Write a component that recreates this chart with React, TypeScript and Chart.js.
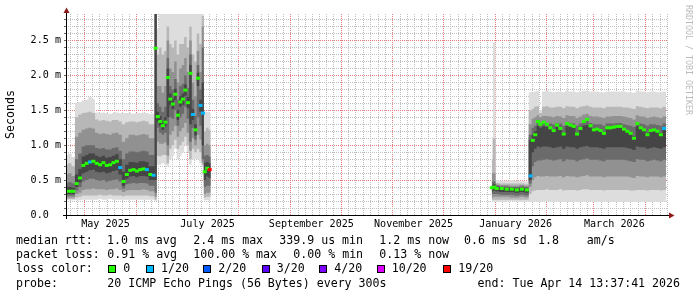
import React, { useEffect, useRef } from "react";
import { Chart, registerables } from "chart.js";

Chart.register(...registerables);

// ---------------- data (x = days since 2025-05-01, y = milliseconds) ----------------
const xRangeDays = [-11.35, 348.3];
const yMaxMs = 2.88;

const yMajorTicks = [0, 0.5, 1.0, 1.5, 2.0, 2.5];
const yTickLabels = ["0.0  ", "0.5 m", "1.0 m", "1.5 m", "2.0 m", "2.5 m"];

const xLabelDays = [0, 61, 123, 184, 245, 304];
const xTickLabels = ["May 2025", "July 2025", "September 2025", "November 2025", "January 2026", "March 2026"];

// segment A: late April – mid July 2025
const aDays = [
  -11.35, -9, -7, -5, -3, -1, 1, 3, 5, 7, 9, 11, 13, 15, 17, 19, 21, 23, 25, 27, 29, 31, 33, 35, 37, 39, 41,
  42.2, 43.5, 45, 46.5, 48, 49.5, 51, 52.5, 54, 55.5, 57, 58.5, 60, 61.5, 63, 64.5, 66, 67.5, 69, 70.5,
  71.5, 73, 74.5, 75.1,
];
const aMedian = [
  0.34, 0.34, 0.34, 0.45, 0.53, 0.71, 0.74, 0.76, 0.77, 0.74, 0.72, 0.75, 0.71, 0.72, 0.75, 0.77, 0.68, 0.48, 0.58, 0.64, 0.65, 0.63, 0.65, 0.66, 0.65, 0.58, 0.57,
  2.39, 1.41, 1.34, 1.28, 1.33, 1.97, 1.66, 1.59, 1.73, 1.43, 1.62, 1.66, 1.79, 1.61, 2.03, 1.44, 1.22, 1.96, 1.57, 1.46,
  0.62, 0.67, 0.65, null,
];
const aLoss = [
  0, 0, 0, 0, 0, 0, 0, 1, 0, 0, 0, 0, 0, 0, 0, 0, 1, 0, 0, 0, 0, 0, 0, 0, 1, 0, 1,
  0, 0, 0, 0, 0, 0, 0, 0, 0, 0, 0, 0, 0, 0, 0, 1, 0, 0, 1, 1,
  0, 0, 19, null,
];
// smoke: [min,max, p3,p18, p5,p16, p7,p14, p9,p12] per step (outer -> inner)
const aSmoke = [
  [0.21, 0.86, 0.23, 0.72, 0.25, 0.58, 0.28, 0.46, 0.30, 0.40],
  [0.21, 0.88, 0.23, 0.74, 0.25, 0.60, 0.28, 0.47, 0.30, 0.40],
  [0.21, 0.83, 0.23, 0.70, 0.25, 0.56, 0.28, 0.45, 0.30, 0.39],
  [0.21, 1.60, 0.25, 1.40, 0.30, 1.12, 0.35, 0.80, 0.40, 0.58],
  [0.21, 1.62, 0.26, 1.44, 0.32, 1.18, 0.40, 0.88, 0.47, 0.66],
  [0.22, 1.64, 0.28, 1.46, 0.36, 1.22, 0.48, 0.98, 0.60, 0.84],
  [0.22, 1.65, 0.28, 1.47, 0.37, 1.24, 0.50, 1.00, 0.62, 0.86],
  [0.22, 1.69, 0.28, 1.48, 0.37, 1.25, 0.52, 1.00, 0.64, 0.88],
  [0.22, 1.66, 0.28, 1.46, 0.38, 1.24, 0.52, 1.00, 0.65, 0.88],
  [0.22, 1.47, 0.28, 1.37, 0.37, 1.18, 0.50, 0.96, 0.62, 0.85],
  [0.23, 1.46, 0.29, 1.35, 0.37, 1.16, 0.49, 0.95, 0.61, 0.83],
  [0.22, 1.47, 0.28, 1.36, 0.37, 1.17, 0.50, 0.96, 0.62, 0.85],
  [0.22, 1.46, 0.28, 1.35, 0.36, 1.16, 0.48, 0.94, 0.60, 0.82],
  [0.23, 1.45, 0.29, 1.34, 0.37, 1.15, 0.49, 0.94, 0.61, 0.83],
  [0.22, 1.46, 0.28, 1.36, 0.37, 1.17, 0.50, 0.96, 0.63, 0.85],
  [0.22, 1.47, 0.28, 1.36, 0.38, 1.18, 0.51, 0.97, 0.64, 0.87],
  [0.22, 1.46, 0.28, 1.34, 0.36, 1.15, 0.48, 0.92, 0.58, 0.80],
  [0.22, 1.46, 0.27, 1.30, 0.33, 1.05, 0.38, 0.80, 0.42, 0.62],
  [0.22, 1.46, 0.28, 1.33, 0.35, 1.10, 0.44, 0.88, 0.52, 0.72],
  [0.22, 1.46, 0.28, 1.34, 0.36, 1.15, 0.45, 0.91, 0.55, 0.76],
  [0.22, 1.45, 0.28, 1.34, 0.36, 1.15, 0.46, 0.91, 0.56, 0.76],
  [0.22, 1.46, 0.28, 1.33, 0.36, 1.14, 0.45, 0.90, 0.54, 0.75],
  [0.22, 1.46, 0.28, 1.34, 0.36, 1.15, 0.46, 0.91, 0.56, 0.77],
  [0.22, 1.47, 0.28, 1.35, 0.37, 1.16, 0.46, 0.92, 0.56, 0.77],
  [0.22, 1.46, 0.28, 1.34, 0.36, 1.15, 0.45, 0.91, 0.55, 0.76],
  [0.22, 1.45, 0.27, 1.30, 0.34, 1.10, 0.42, 0.86, 0.50, 0.70],
  [0.22, 1.45, 0.27, 1.30, 0.34, 1.10, 0.42, 0.86, 0.50, 0.70],
  [0.20, 2.95, 0.22, 2.95, 0.26, 2.95, 0.32, 2.95, 0.50, 2.95],
  [0.72, 2.66, 0.85, 2.30, 1.05, 1.85, 1.25, 1.60, 1.34, 1.48],
  [0.72, 2.95, 0.84, 2.40, 1.02, 1.85, 1.18, 1.55, 1.28, 1.42],
  [0.74, 2.95, 0.86, 2.30, 1.02, 1.75, 1.15, 1.48, 1.22, 1.35],
  [0.72, 2.95, 0.86, 2.35, 1.04, 1.85, 1.18, 1.55, 1.27, 1.40],
  [0.70, 2.95, 0.74, 2.70, 0.85, 2.50, 1.00, 2.25, 1.40, 2.10],
  [0.80, 2.95, 0.95, 2.45, 1.15, 2.10, 1.40, 1.85, 1.58, 1.74],
  [0.85, 2.95, 1.00, 2.40, 1.20, 2.05, 1.38, 1.80, 1.52, 1.67],
  [0.95, 2.95, 1.08, 2.50, 1.28, 2.20, 1.50, 1.95, 1.65, 1.81],
  [0.80, 2.95, 0.95, 2.30, 1.12, 1.90, 1.28, 1.65, 1.36, 1.50],
  [0.85, 2.95, 1.00, 2.45, 1.20, 2.10, 1.40, 1.85, 1.55, 1.70],
  [0.90, 2.95, 1.05, 2.45, 1.25, 2.15, 1.45, 1.88, 1.58, 1.74],
  [1.00, 2.95, 1.12, 2.55, 1.32, 2.25, 1.55, 2.00, 1.71, 1.87],
  [0.90, 2.95, 1.00, 2.40, 1.18, 2.05, 1.38, 1.82, 1.53, 1.69],
  [0.72, 2.95, 0.80, 2.70, 0.92, 2.50, 1.05, 2.30, 1.30, 2.15],
  [0.80, 2.95, 0.95, 2.30, 1.10, 1.90, 1.25, 1.65, 1.36, 1.52],
  [0.80, 2.95, 0.90, 2.20, 1.00, 1.70, 1.08, 1.42, 1.14, 1.30],
  [0.80, 2.95, 0.95, 2.60, 1.15, 2.35, 1.40, 2.15, 1.85, 2.04],
  [0.75, 2.95, 0.90, 2.45, 1.08, 2.05, 1.28, 1.80, 1.48, 1.65],
  [0.70, 2.95, 0.72, 2.85, 0.75, 2.70, 0.80, 2.40, 1.00, 1.90],
  [0.21, 1.48, 0.25, 1.20, 0.30, 1.00, 0.40, 0.85, 0.50, 0.75],
  [0.21, 1.48, 0.26, 1.25, 0.32, 1.02, 0.42, 0.86, 0.55, 0.76],
  [0.21, 1.46, 0.26, 1.22, 0.32, 1.00, 0.42, 0.84, 0.53, 0.74],
  [0.21, 1.46, 0.26, 1.22, 0.32, 1.00, 0.42, 0.84, 0.53, 0.74],
];

// segment B: late December 2025 – April 14 2026
const bDays = [
  243.0, 244.5, 246, 249, 252, 255, 258, 261, 264,
  266.2,
  267.5, 269, 270.5, 272, 274, 276, 278, 280, 282, 284, 286, 288, 290, 292, 294, 296, 298, 300, 302, 304, 306,
  308, 310, 312, 314, 316, 318, 320, 322, 324, 326, 328, 330, 332, 334, 336, 338, 340, 342, 344, 346,
  347.1,
];
const bMedian = [
  0.39, 0.40, 0.38, 0.38, 0.37, 0.37, 0.36, 0.37, 0.36,
  0.56,
  1.07, 1.15, 1.34, 1.30, 1.33, 1.30, 1.25, 1.21, 1.29, 1.24, 1.16, 1.31, 1.29, 1.27, 1.16, 1.24, 1.34, 1.37, 1.28, 1.22, 1.23,
  1.21, 1.17, 1.25, 1.25, 1.26, 1.27, 1.27, 1.23, 1.20, 1.17, 1.10, 1.31, 1.25, 1.22, 1.15, 1.21, 1.22, 1.20, 1.15, 1.24,
  null,
];
const bLoss = [
  0, 0, 0, 0, 0, 0, 0, 0, 0,
  1,
  0, 0, 0, 0, 0, 0, 0, 0, 0, 0, 0, 0, 0, 0, 0, 0, 0, 0, 0, 0, 0,
  0, 0, 0, 0, 0, 0, 0, 0, 0, 0, 0, 0, 0, 0, 0, 0, 0, 0, 0, 1,
  null,
];
const bSmoke = [
  [0.19, 1.12, 0.22, 0.80, 0.25, 0.60, 0.30, 0.48, 0.34, 0.43],
  [0.19, 2.47, 0.22, 1.10, 0.26, 0.60, 0.30, 0.48, 0.35, 0.44],
  [0.19, 0.50, 0.22, 0.46, 0.26, 0.44, 0.30, 0.42, 0.34, 0.41],
  [0.19, 0.49, 0.22, 0.45, 0.26, 0.43, 0.29, 0.41, 0.33, 0.40],
  [0.19, 0.49, 0.22, 0.45, 0.26, 0.43, 0.29, 0.41, 0.33, 0.39],
  [0.20, 0.50, 0.22, 0.45, 0.25, 0.42, 0.29, 0.40, 0.33, 0.39],
  [0.19, 0.49, 0.22, 0.45, 0.25, 0.42, 0.28, 0.40, 0.32, 0.38],
  [0.19, 0.49, 0.22, 0.45, 0.26, 0.43, 0.29, 0.41, 0.33, 0.39],
  [0.19, 0.48, 0.22, 0.44, 0.25, 0.42, 0.28, 0.40, 0.32, 0.38],
  [0.19, 1.76, 0.30, 1.50, 0.40, 1.30, 0.45, 1.15, 0.50, 1.08],
  [0.19, 1.76, 0.34, 1.52, 0.50, 1.38, 0.70, 1.25, 0.90, 1.15],
  [0.19, 1.77, 0.35, 1.55, 0.54, 1.40, 0.76, 1.28, 0.95, 1.20],
  [0.19, 1.78, 0.36, 1.56, 0.56, 1.43, 0.78, 1.34, 0.98, 1.28],
  [0.19, 1.50, 0.36, 1.46, 0.55, 1.40, 0.78, 1.32, 0.97, 1.25],
  [0.19, 1.77, 0.36, 1.55, 0.55, 1.42, 0.79, 1.33, 0.98, 1.27],
  [0.20, 1.78, 0.37, 1.56, 0.56, 1.42, 0.80, 1.32, 0.98, 1.26],
  [0.19, 1.77, 0.36, 1.54, 0.55, 1.41, 0.79, 1.31, 0.97, 1.23],
  [0.19, 1.76, 0.36, 1.54, 0.55, 1.40, 0.78, 1.30, 0.96, 1.21],
  [0.19, 1.77, 0.36, 1.55, 0.55, 1.42, 0.79, 1.32, 0.97, 1.26],
  [0.19, 1.77, 0.37, 1.55, 0.56, 1.41, 0.80, 1.31, 0.98, 1.23],
  [0.19, 1.76, 0.35, 1.53, 0.54, 1.39, 0.77, 1.28, 0.95, 1.18],
  [0.19, 1.78, 0.36, 1.56, 0.56, 1.43, 0.80, 1.33, 0.98, 1.27],
  [0.19, 1.77, 0.36, 1.55, 0.55, 1.42, 0.79, 1.32, 0.97, 1.26],
  [0.19, 1.77, 0.36, 1.55, 0.55, 1.42, 0.79, 1.31, 0.97, 1.25],
  [0.19, 1.76, 0.35, 1.53, 0.54, 1.39, 0.77, 1.28, 0.95, 1.18],
  [0.19, 1.77, 0.36, 1.55, 0.55, 1.41, 0.79, 1.31, 0.97, 1.23],
  [0.19, 1.78, 0.37, 1.56, 0.56, 1.44, 0.80, 1.34, 0.98, 1.28],
  [0.20, 1.78, 0.37, 1.57, 0.57, 1.45, 0.81, 1.35, 0.99, 1.29],
  [0.19, 1.77, 0.36, 1.55, 0.55, 1.42, 0.79, 1.32, 0.97, 1.25],
  [0.19, 1.77, 0.36, 1.54, 0.55, 1.41, 0.79, 1.30, 0.97, 1.22],
  [0.19, 1.77, 0.36, 1.54, 0.55, 1.41, 0.79, 1.30, 0.97, 1.22],
  [0.19, 1.76, 0.36, 1.54, 0.55, 1.40, 0.78, 1.30, 0.96, 1.21],
  [0.19, 1.76, 0.35, 1.53, 0.54, 1.39, 0.77, 1.28, 0.95, 1.18],
  [0.19, 1.77, 0.36, 1.55, 0.55, 1.41, 0.79, 1.31, 0.97, 1.23],
  [0.19, 1.77, 0.36, 1.55, 0.55, 1.41, 0.79, 1.31, 0.97, 1.23],
  [0.19, 1.77, 0.36, 1.55, 0.55, 1.42, 0.79, 1.31, 0.97, 1.24],
  [0.19, 1.77, 0.36, 1.55, 0.55, 1.42, 0.79, 1.32, 0.97, 1.25],
  [0.19, 1.77, 0.36, 1.55, 0.55, 1.42, 0.79, 1.32, 0.97, 1.25],
  [0.19, 1.77, 0.36, 1.54, 0.55, 1.41, 0.79, 1.30, 0.97, 1.22],
  [0.19, 1.76, 0.36, 1.54, 0.55, 1.40, 0.78, 1.29, 0.96, 1.20],
  [0.19, 1.76, 0.35, 1.53, 0.54, 1.39, 0.77, 1.28, 0.95, 1.18],
  [0.19, 1.75, 0.35, 1.52, 0.53, 1.37, 0.76, 1.26, 0.93, 1.13],
  [0.19, 1.78, 0.36, 1.56, 0.56, 1.43, 0.80, 1.33, 0.98, 1.27],
  [0.19, 1.77, 0.36, 1.55, 0.55, 1.41, 0.79, 1.31, 0.97, 1.23],
  [0.19, 1.77, 0.36, 1.54, 0.55, 1.41, 0.79, 1.30, 0.97, 1.22],
  [0.19, 1.76, 0.35, 1.53, 0.54, 1.39, 0.77, 1.28, 0.95, 1.17],
  [0.19, 1.77, 0.36, 1.54, 0.55, 1.40, 0.78, 1.30, 0.96, 1.21],
  [0.19, 1.77, 0.36, 1.54, 0.55, 1.41, 0.79, 1.30, 0.97, 1.22],
  [0.19, 1.76, 0.36, 1.54, 0.55, 1.40, 0.78, 1.29, 0.96, 1.20],
  [0.19, 1.76, 0.35, 1.53, 0.54, 1.39, 0.77, 1.28, 0.95, 1.17],
  [0.19, 1.77, 0.36, 1.55, 0.55, 1.41, 0.79, 1.31, 0.97, 1.23],
  [0.19, 1.77, 0.36, 1.55, 0.55, 1.41, 0.79, 1.31, 0.97, 1.23],
];

// legend texts
const rttStats = ["1.0 ms avg", "2.4 ms max", "339.9 us min", "1.2 ms now", "0.6 ms sd", "1.8", "am/s"];
const lossStats = ["0.91 % avg", "100.00 % max", "0.00 % min", "0.13 % now"];
const lossLevels = [0, 1, 2, 3, 4, 10, 19];
const lossLabels = ["0", "1/20", "2/20", "3/20", "4/20", "10/20", "19/20"];
const probeText = "20 ICMP Echo Pings (56 Bytes) every 300s";
const endText = "end: Tue Apr 14 13:37:41 2026";

// ---------------- styles / layout ----------------
const lossColors: Record<number, string> = {
  0: "#26ff00", 1: "#00b8ff", 2: "#0059ff", 3: "#5e00ff", 4: "#7e00ff", 10: "#dd00ff", 19: "#ff0000",
};
const smokeGreys = ["#dddddd", "#b7b7b7", "#919191", "#6b6b6b", "#454545"];
const MONO = '"DejaVu Sans Mono", monospace';
const MAJOR_GRID = "#e47c7c";
const MINOR_GRID = "#bfbfbf";
const ARROW = "#8b1a1a";
const rttX = [107, 193.3, 279.3, 379.3, 464, 538, 586.7];
const lossX = [107.3, 193.3, 293.3, 379.3];
const boxX = [108.3, 146, 203.3, 261.7, 319.3, 376.7, 443.3];
const rowY = [241.3, 255.3, 269.3, 283.7];

const segments = [
  { days: aDays, median: aMedian, loss: aLoss, smoke: aSmoke },
  { days: bDays, median: bMedian, loss: bLoss, smoke: bSmoke },
];
const GAP_DAY = 160;

function bandPoints(col: number) {
  const pts: { x: number; y: number | null }[] = [];
  segments.forEach((s, si) => {
    if (si > 0) pts.push({ x: GAP_DAY, y: null });
    s.days.forEach((d, i) => pts.push({ x: d, y: s.smoke[i][col] }));
  });
  return pts;
}

function monthTicks() {
  const base = Date.UTC(2025, 4, 1);
  const starts: number[] = [];
  for (let m = 2; m <= 16; m++) starts.push((Date.UTC(2025, m, 1) - base) / 864e5);
  const ticks: { value: number; major: boolean }[] = [];
  for (let i = 0; i < starts.length - 1; i++) {
    const s = starts[i];
    const e = starts[i + 1];
    ticks.push({ value: s, major: true });
    for (let k = 1; k < 7; k++) ticks.push({ value: s + (k * (e - s)) / 7, major: false });
  }
  return ticks.filter((t) => t.value >= xRangeDays[0] && t.value <= xRangeDays[1]);
}

function yTicks() {
  const t: { value: number; major: boolean }[] = [];
  for (let i = 0; i <= 28; i++) {
    const v = i / 10;
    t.push({ value: v, major: yMajorTicks.indexOf(v) >= 0 });
  }
  return t;
}

const decorPlugin = {
  id: "rrdDecor",
  afterDraw(chart: any) {
    const { ctx, chartArea } = chart;
    const L = Math.round(chartArea.left) + 0.5;
    const B = Math.round(chartArea.bottom) + 0.5;
    const T = chartArea.top;
    const R = chartArea.right;
    ctx.save();
    ctx.setLineDash([]);
    ctx.strokeStyle = "#000";
    ctx.lineWidth = 1;
    ctx.beginPath();
    ctx.moveTo(L, B + 3.5);
    ctx.lineTo(L, T - 2);
    ctx.moveTo(L - 3.5, B);
    ctx.lineTo(R + 2, B);
    ctx.stroke();
    ctx.fillStyle = ARROW;
    ctx.beginPath();
    ctx.moveTo(L - 3, T - 1);
    ctx.lineTo(L + 3, T - 1);
    ctx.lineTo(L, T - 6.5);
    ctx.closePath();
    ctx.fill();
    ctx.beginPath();
    ctx.moveTo(R + 1, B - 3);
    ctx.lineTo(R + 1, B + 3);
    ctx.lineTo(R + 6.5, B);
    ctx.closePath();
    ctx.fill();

    // legend
    ctx.fillStyle = "#000";
    ctx.font = `11.6px ${MONO}`;
    ctx.textBaseline = "middle";
    ctx.textAlign = "left";
    ctx.fillText("median rtt:", 16, rowY[0]);
    rttStats.forEach((s, i) => ctx.fillText(s, rttX[i], rowY[0]));
    ctx.fillText("packet loss:", 16, rowY[1]);
    lossStats.forEach((s, i) => ctx.fillText(s, lossX[i], rowY[1]));
    ctx.fillText("loss color:", 16, rowY[2]);
    lossLevels.forEach((lv, i) => {
      const bx = Math.round(boxX[i]);
      const by = Math.round(rowY[2] - 4);
      ctx.fillStyle = lossColors[lv];
      ctx.fillRect(bx, by, 8, 8);
      ctx.strokeStyle = "#000";
      ctx.strokeRect(bx + 0.5, by + 0.5, 7, 7);
      ctx.fillStyle = "#000";
      ctx.fillText(lossLabels[i], boxX[i] + 15, rowY[2]);
    });
    ctx.fillText("probe:", 16, rowY[3]);
    ctx.fillText(probeText, 107.3, rowY[3]);
    ctx.textAlign = "right";
    ctx.fillText(endText, 680, rowY[3]);

    // watermark
    ctx.save();
    ctx.translate(688.5, 5);
    ctx.rotate(Math.PI / 2);
    ctx.font = `8.3px ${MONO}`;
    ctx.fillStyle = "#bbbbbb";
    ctx.textAlign = "left";
    ctx.textBaseline = "middle";
    ctx.fillText("RRDTOOL / TOBI OETIKER", 0, 0);
    ctx.restore();
    ctx.restore();
  },
};

function buildConfig(): any {
  const medianPts: { x: number; y: number }[] = [];
  const medianCols: string[] = [];
  segments.forEach((s) => {
    s.days.forEach((d, i) => {
      const m = s.median[i];
      const l = s.loss[i];
      if (m == null || l == null) return;
      medianPts.push({ x: d, y: m });
      medianCols.push(lossColors[l]);
    });
  });

  const datasets: any[] = [
    {
      label: "median",
      data: medianPts,
      showLine: false,
      pointStyle: "line",
      pointRadius: 2,
      pointBorderWidth: 3,
      pointBorderColor: medianCols,
      pointBackgroundColor: medianCols,
      order: 0,
      clip: 0,
    },
  ];
  for (let k = 4; k >= 0; k--) {
    const common = {
      borderColor: "rgba(0,0,0,0)",
      borderWidth: 0,
      pointRadius: 0,
      stepped: "middle",
      spanGaps: false,
      order: 10 - k,
      clip: 0,
    };
    datasets.push({ ...common, label: `lo${k}`, data: bandPoints(k * 2), fill: false });
    datasets.push({ ...common, label: `hi${k}`, data: bandPoints(k * 2 + 1), fill: "-1", backgroundColor: smokeGreys[k] });
  }

  const xt = monthTicks();
  const yt = yTicks();
  const xMajor = (c: any) => c && c.type === "tick" && xt[c.index] && xt[c.index].major;
  const yMajor = (c: any) => c && c.type === "tick" && yt[c.index] && yt[c.index].major;

  return {
    type: "line",
    data: { datasets },
    options: {
      animation: false,
      responsive: false,
      devicePixelRatio: 1,
      events: [],
      layout: { padding: { left: 0, right: 29, top: 14, bottom: 62 } },
      plugins: { legend: { display: false }, tooltip: { enabled: false } },
      scales: {
        x: {
          type: "linear",
          min: xRangeDays[0],
          max: xRangeDays[1],
          z: 1,
          afterBuildTicks: (scale: any) => {
            scale.ticks = xt.map((t) => ({ value: t.value }));
          },
          afterFit: (scale: any) => {
            scale.height = 20;
          },
          grid: {
            color: (c: any) => (xMajor(c) ? MAJOR_GRID : MINOR_GRID),
            lineWidth: 1,
            drawTicks: false,
          },
          border: { display: false, dash: [1, 1] },
          ticks: {
            autoSkip: false,
            maxRotation: 0,
            minRotation: 0,
            padding: 3.5,
            labelOffset: 20.5,
            color: "#000",
            font: { family: MONO, size: 10.1 },
            callback: (v: number) => {
              const i = xLabelDays.indexOf(v);
              return i >= 0 ? xTickLabels[i] : "";
            },
          },
        },
        y: {
          type: "linear",
          min: 0,
          max: yMaxMs,
          z: 1,
          afterBuildTicks: (scale: any) => {
            scale.ticks = yt.map((t) => ({ value: t.value }));
          },
          afterFit: (scale: any) => {
            scale.width = 66;
          },
          grid: {
            color: (c: any) => (yMajor(c) ? MAJOR_GRID : MINOR_GRID),
            lineWidth: 1,
            drawTicks: true,
            tickLength: 2,
            tickColor: "#666666",
          },
          border: { display: false, dash: [1, 1] },
          ticks: {
            autoSkip: false,
            padding: 3,
            color: "#000",
            font: { family: MONO, size: 10.1 },
            callback: (v: number) => {
              const i = yMajorTicks.indexOf(v);
              return i >= 0 ? yTickLabels[i] : "";
            },
          },
          title: {
            display: true,
            text: "Seconds",
            color: "#000",
            font: { family: MONO, size: 11.6 },
            padding: { top: 4, bottom: 4 },
          },
        },
      },
    },
    plugins: [decorPlugin],
  };
}

export default function App() {
  const ref = useRef<HTMLCanvasElement>(null);
  useEffect(() => {
    document.body.style.margin = "0";
    document.body.style.background = "#ffffff";
    const chart = new Chart(ref.current as HTMLCanvasElement, buildConfig());
    return () => chart.destroy();
  }, []);
  return (
    <div style={{ width: 697, height: 297, position: "relative", background: "#fff" }}>
      <canvas ref={ref} width={697} height={297} style={{ display: "block", width: 697, height: 297 }} />
    </div>
  );
}
